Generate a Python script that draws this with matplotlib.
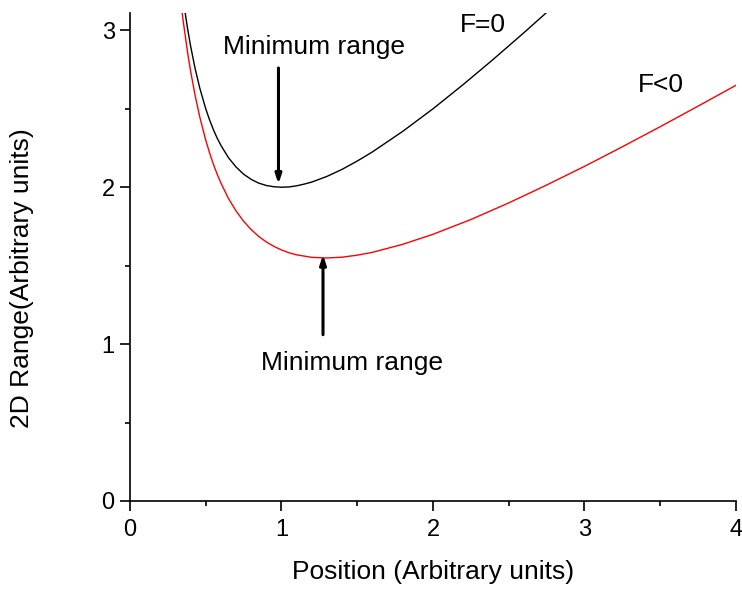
import matplotlib
matplotlib.use('Agg')
import matplotlib.pyplot as plt
from matplotlib.ticker import MultipleLocator

plt.rcParams['font.family'] = ['Liberation Sans', 'DejaVu Sans']

# range vs position, F=0 case
pos_f0 = [0.35, 0.36, 0.38, 0.40, 0.43, 0.46, 0.50, 0.525, 0.55, 0.575, 0.60, 0.65,
          0.70, 0.75, 0.80, 0.85, 0.90, 0.95, 1.00, 1.05, 1.10, 1.15, 1.20, 1.30,
          1.40, 1.50, 1.60, 1.80, 2.00, 2.20, 2.40, 2.60, 2.80]
range_f0 = [3.207, 3.138, 3.012, 2.900, 2.756, 2.634, 2.500, 2.430, 2.368, 2.314,
            2.267, 2.188, 2.129, 2.083, 2.050, 2.026, 2.011, 2.003, 2.000, 2.002,
            2.009, 2.020, 2.033, 2.069, 2.114, 2.167, 2.225, 2.356, 2.500, 2.655,
            2.817, 2.985, 3.157]

# range vs position, F<0 case
pos_fneg = [0.33, 0.35, 0.38, 0.40, 0.43, 0.46, 0.50, 0.525, 0.55, 0.575, 0.60, 0.65,
            0.70, 0.75, 0.80, 0.85, 0.90, 0.95, 1.00, 1.05, 1.10, 1.20, 1.30, 1.40,
            1.50, 1.60, 1.80, 2.00, 2.25, 2.50, 2.75, 3.00, 3.25, 3.50, 3.75, 4.00]
range_fneg = [3.228, 3.067, 2.860, 2.740, 2.584, 2.450, 2.300, 2.220, 2.148, 2.084,
              2.027, 1.928, 1.849, 1.783, 1.730, 1.686, 1.651, 1.623, 1.600, 1.582,
              1.569, 1.553, 1.549, 1.554, 1.567, 1.585, 1.636, 1.700, 1.794, 1.900,
              2.014, 2.133, 2.258, 2.386, 2.517, 2.650]

fig = plt.figure(figsize=(7.42, 5.95), dpi=100)
ax = fig.add_axes([0.1752, 0.158, 0.8167, 0.820])

ax.plot(pos_f0, range_f0, color='black', lw=1.0)
ax.plot(pos_fneg, range_fneg, color='red', lw=1.0)

ax.set_xlim(0, 4)
ax.set_ylim(0, 3.11)
ax.xaxis.set_major_locator(MultipleLocator(1))
ax.xaxis.set_minor_locator(MultipleLocator(0.5))
ax.yaxis.set_major_locator(MultipleLocator(1))
ax.yaxis.set_minor_locator(MultipleLocator(0.5))

for s in ['top', 'right']:
    ax.spines[s].set_visible(False)
for s in ['left', 'bottom']:
    ax.spines[s].set_linewidth(1.2)
ax.tick_params(which='major', direction='out', length=7, width=1.2, labelsize=17)
ax.tick_params(which='minor', direction='out', length=3.8, width=1.2)
ax.tick_params(axis='x', which='major', pad=6)
ax.tick_params(axis='y', which='major', pad=4)

ax.set_xlabel('Position (Arbitrary units)', fontsize=19, labelpad=14)
ax.set_ylabel('2D Range(Arbitrary units)', fontsize=19)
ax.yaxis.set_label_coords(-0.158, 0.457)

arrow = dict(arrowstyle='-|>,head_length=0.55,head_width=0.18', color='black',
             lw=2.2, shrinkA=0, shrinkB=0)
ax.annotate('', xy=(0.98, 2.02), xytext=(0.98, 2.76), arrowprops=arrow)
ax.annotate('', xy=(1.274, 1.57), xytext=(1.274, 1.06), arrowprops=arrow)

ax.text(0.614, 2.85, 'Minimum range', fontsize=19, ha='left', va='baseline')
ax.text(0.865, 0.836, 'Minimum range', fontsize=19, ha='left', va='baseline')
ax.text(2.18, 2.99, 'F=0', fontsize=19, ha='left', va='baseline')
ax.text(3.35, 2.61, 'F<0', fontsize=19, ha='left', va='baseline')

fig.savefig('out.png', dpi=100)
